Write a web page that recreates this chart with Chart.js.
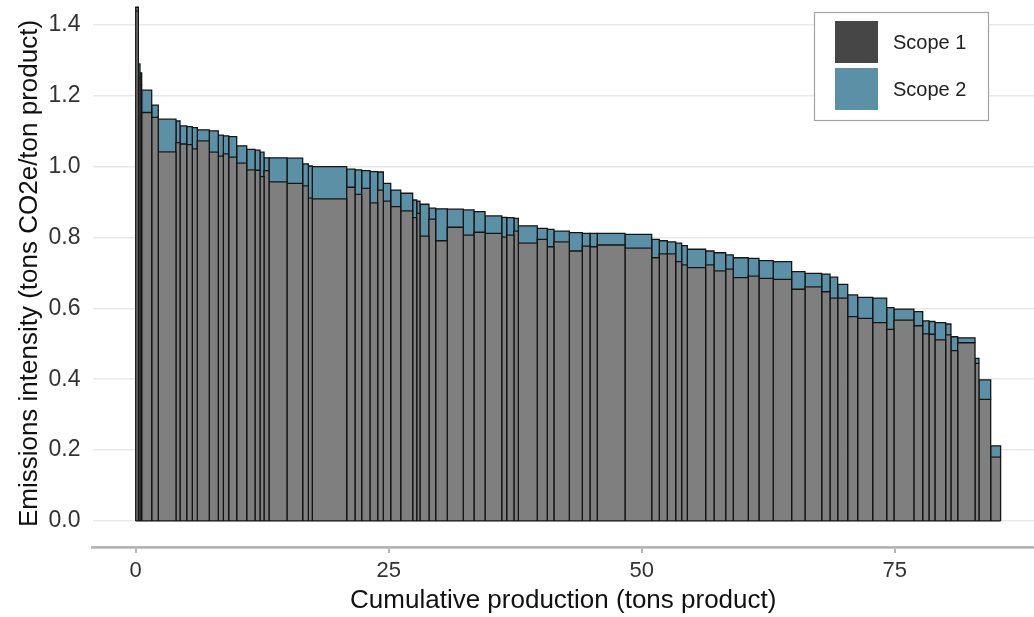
<!DOCTYPE html>
<html>
<head>
<meta charset="utf-8">
<script src="https://cdn.jsdelivr.net/npm/chart.js@4.4.1/dist/chart.umd.min.js"></script>
<style>
  html, body { margin: 0; padding: 0; background: #fff; overflow: hidden; }
</style>
</head>
<body>
<canvas id="intensityCurve" width="1034" height="617"></canvas>
<script>
// cumulative production edges (tons product), one more than the number of plants
const edges = [0, 0.26, 0.42, 0.59, 1.58, 2.23, 3.98, 4.38, 5.04, 5.59,
  6.09, 7.27, 8.16, 8.66, 9.19, 9.98, 10.97, 11.79, 12.28, 12.68,
  13.17, 14.95, 16.50, 17.06, 17.45, 20.85, 21.67, 22.33, 23.15, 23.91,
  24.47, 25.20, 26.19, 27.37, 27.77, 28.09, 28.98, 29.64, 30.79, 32.37,
  33.43, 34.52, 36.17, 36.66, 37.38, 37.81, 39.68, 40.67, 41.33, 42.85,
  44.13, 44.89, 45.61, 48.35, 50.99, 51.74, 52.53, 53.36, 53.95, 54.51,
  56.32, 57.15, 58.30, 59.05, 60.53, 61.59, 63.00, 64.82, 66.14, 67.79,
  68.61, 69.37, 70.36, 71.34, 72.83, 74.21, 74.93, 76.90, 77.77, 78.39,
  78.98, 80.04, 80.56, 81.23, 82.94, 83.33, 84.49, 85.47];

// emissions intensity (tons CO2e / ton product)
const scope1 = [1.44, 1.25, 1.23, 1.153, 1.139, 1.042, 1.068, 1.064, 1.062, 1.050,
  1.073, 1.041, 1.030, 1.036, 1.027, 1.010, 0.991, 0.990, 0.972, 0.989,
  0.957, 0.953, 0.946, 0.911, 0.909, 0.942, 0.922, 0.939, 0.898, 0.934,
  0.903, 0.887, 0.875, 0.856, 0.868, 0.804, 0.852, 0.791, 0.829, 0.807,
  0.815, 0.812, 0.801, 0.807, 0.818, 0.784, 0.795, 0.774, 0.788, 0.762,
  0.776, 0.774, 0.779, 0.770, 0.743, 0.754, 0.754, 0.732, 0.723, 0.715,
  0.723, 0.706, 0.711, 0.687, 0.691, 0.685, 0.682, 0.654, 0.661, 0.647,
  0.629, 0.629, 0.577, 0.572, 0.560, 0.541, 0.567, 0.551, 0.528, 0.527,
  0.511, 0.525, 0.481, 0.503, 0.445, 0.343, 0.180];

const scope2 = [0.01, 0.04, 0.035, 0.063, 0.035, 0.092, 0.061, 0.051, 0.051, 0.060,
  0.031, 0.060, 0.059, 0.051, 0.058, 0.049, 0.058, 0.057, 0.069, 0.036,
  0.068, 0.071, 0.062, 0.091, 0.091, 0.051, 0.069, 0.050, 0.088, 0.051,
  0.050, 0.047, 0.050, 0.050, 0.035, 0.090, 0.031, 0.090, 0.051, 0.071,
  0.058, 0.049, 0.056, 0.049, 0.036, 0.049, 0.031, 0.049, 0.030, 0.052,
  0.036, 0.038, 0.033, 0.039, 0.052, 0.037, 0.034, 0.052, 0.054, 0.052,
  0.039, 0.051, 0.040, 0.056, 0.050, 0.050, 0.050, 0.050, 0.038, 0.050,
  0.059, 0.039, 0.061, 0.059, 0.069, 0.061, 0.031, 0.040, 0.037, 0.036,
  0.049, 0.031, 0.039, 0.014, 0.014, 0.055, 0.032];

const seriesNames = ["Scope 1", "Scope 2"];
const xTicks = [0, 25, 50, 75];
const yTicks = [0, 0.2, 0.4, 0.6, 0.8, 1.0, 1.2, 1.4];

const GREY = "#7f7f7f";
const BLUE = "#5b90a6";
const EDGE = "#151515";
const FONT = "'Liberation Sans', Arial, sans-serif";

function rectLine(x0, x1, y0, y1, color, fill) {
  return {
    data: [{ x: x0, y: y0 }, { x: x0, y: y1 }, { x: x1, y: y1 }, { x: x1, y: y0 }],
    backgroundColor: color,
    borderColor: EDGE,
    borderWidth: 1.3,
    borderJoinStyle: "miter",
    pointRadius: 0,
    tension: 0,
    fill: fill,
  };
}

const datasets = [];
// bottom outline of all bars
datasets.push({
  data: [{ x: edges[0], y: 0 }, { x: edges[edges.length - 1], y: 0 }],
  borderColor: EDGE, borderWidth: 1.3, pointRadius: 0, fill: false,
});
scope1.forEach((v, i) => {
  datasets.push(rectLine(edges[i], edges[i + 1], 0, v, GREY, "origin"));
});
scope2.forEach((v, i) => {
  const base = scope1[i];
  datasets.push(rectLine(edges[i], edges[i + 1], base, base + v, BLUE, { value: base }));
});

// legend drawn inside the panel, top right
const legendBox = {
  id: "legendBox",
  afterDraw(chart) {
    const ctx = chart.ctx;
    ctx.save();
    ctx.fillStyle = "#fff";
    ctx.fillRect(814, 12, 174, 109);
    ctx.strokeStyle = "#a3a3a3";
    ctx.lineWidth = 1.2;
    ctx.strokeRect(814.5, 12.5, 174, 108);
    const colors = ["#464646", BLUE];
    ctx.font = "20px " + FONT;
    ctx.textBaseline = "middle";
    seriesNames.forEach((name, i) => {
      const top = 21 + i * 47;
      ctx.fillStyle = colors[i];
      ctx.fillRect(835, top, 43, 42);
      ctx.fillStyle = "#222";
      ctx.fillText(name, 893, top + 22);
    });
    ctx.restore();
  },
};

new Chart(document.getElementById("intensityCurve"), {
  type: "line",
  data: { datasets: datasets },
  plugins: [legendBox],
  options: {
    responsive: false,
    animation: false,
    events: [],
    layout: { padding: 0 },
    plugins: {
      legend: { display: false },
      tooltip: { enabled: false },
    },
    scales: {
      x: {
        type: "linear",
        min: -4.27,
        max: 88.77,
        afterBuildTicks: (axis) => { axis.ticks = xTicks.map((v) => ({ value: v })); },
        afterFit: (scale) => { scale.height = 70; scale.paddingLeft = 0; scale.paddingRight = 0; },
        grid: { drawOnChartArea: false, drawTicks: true, tickLength: 6, color: "#b5b5b5", lineWidth: 2 },
        border: { display: true, color: "#b5b5b5", width: 2.7 },
        ticks: { padding: 5, color: "#333", font: { family: FONT, size: 22 } },
        title: {
          display: true,
          text: "Cumulative production (tons product)",
          color: "#111",
          font: { family: FONT, size: 26 },
          padding: { top: 0, bottom: 1 },
        },
      },
      y: {
        min: -0.0735,
        max: 1.4705,
        afterBuildTicks: (axis) => { axis.ticks = yTicks.map((v) => ({ value: v })); },
        afterFit: (scale) => { scale.width = 92.5; scale.paddingTop = 0; scale.paddingBottom = 0; },
        grid: { drawTicks: false, color: "#e8e8e8", lineWidth: 1.6 },
        border: { display: false },
        ticks: {
          padding: 12,
          color: "#333",
          font: { family: FONT, size: 23 },
          callback: (v) => v.toFixed(1),
        },
        title: {
          display: true,
          text: "Emissions intensity (tons CO2e/ton product)",
          color: "#111",
          font: { family: FONT, size: 26 },
          padding: { top: 14, bottom: 0 },
        },
      },
    },
  },
});
</script>
</body>
</html>
